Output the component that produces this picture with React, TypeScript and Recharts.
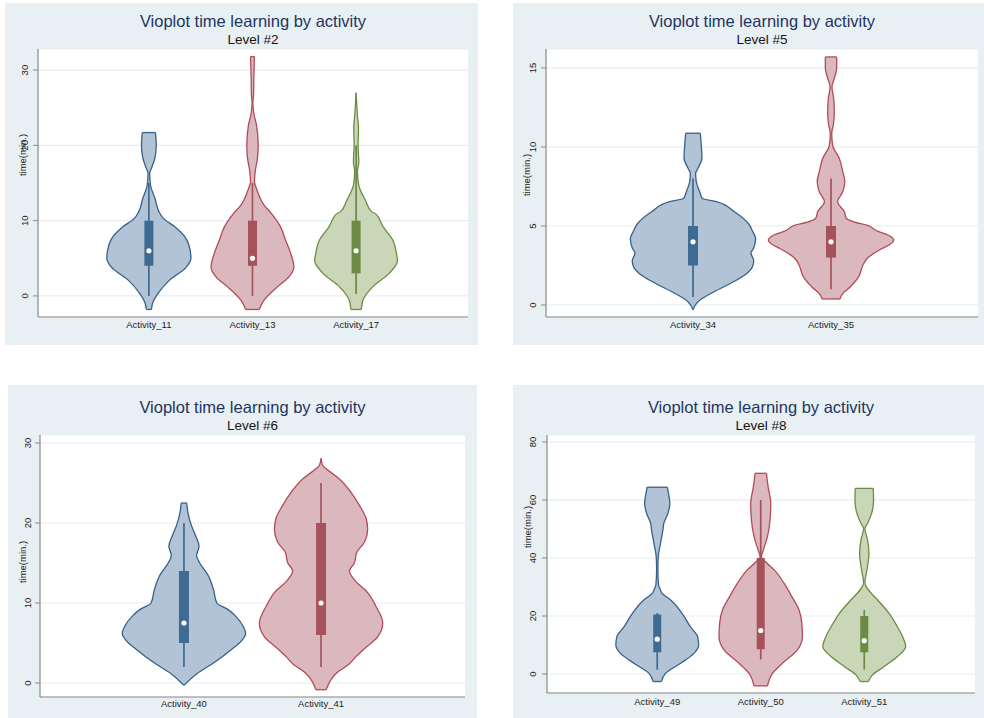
import React from 'react';
import { ComposedChart, Area, Line, Scatter, XAxis, YAxis, CartesianGrid, Label } from 'recharts';

// each outline row: [time (min.), half width of the violin in category units]
type Outline = [number, number][];

// Level #2
const LEVEL2_NAMES = ['Activity_11', 'Activity_13', 'Activity_17'];
const ACT11_OUTLINE: Outline = [
  [-1.8, 0.025], [-1.0, 0.035], [0.3, 0.087], [2.1, 0.2], [3.8, 0.36], [5.0, 0.406], [6.8, 0.385],
  [8.0, 0.34], [9.2, 0.25], [10.3, 0.14], [11.2, 0.097], [13.0, 0.058], [14.7, 0.016], [16.3, 0.008],
  [17.0, 0.026], [18.3, 0.058], [20.0, 0.071], [21.0, 0.068], [21.7, 0.063],
];
const ACT13_OUTLINE: Outline = [
  [-1.8, 0.065], [-0.6, 0.11], [1.2, 0.24], [2.5, 0.35], [3.8, 0.4], [5.6, 0.37], [7.4, 0.32],
  [9.2, 0.27], [11.0, 0.18], [12.1, 0.11], [13.9, 0.048], [15.2, 0.019], [16.5, 0.026], [18.3, 0.048],
  [20.0, 0.055], [22.7, 0.039], [24.0, 0.016], [25.6, 0.004], [26.7, 0.01], [28.9, 0.013], [30.5, 0.016],
  [31.8, 0.019],
];
const ACT17_OUTLINE: Outline = [
  [-1.8, 0.05], [-0.6, 0.065], [1.2, 0.16], [3.0, 0.32], [4.7, 0.4], [5.6, 0.39], [7.4, 0.355],
  [9.2, 0.26], [10.9, 0.19], [11.2, 0.15], [12.7, 0.09], [14.7, 0.026], [16.5, 0.013], [17.8, 0.026],
  [20.0, 0.019], [22.3, 0.023], [24.0, 0.013], [25.5, 0.006], [27.0, 0],
];
// [lower adjacent, q1, median, q3, upper adjacent]
const LEVEL2_STATS = [[0, 4, 6, 10, 15], [0, 4, 5, 10, 15], [0.25, 3, 6, 10, 20]];
const LEVEL2_TICKS = [0, 10, 20, 30];

// Level #5
const LEVEL5_NAMES = ['Activity_34', 'Activity_35'];
const ACT34_OUTLINE: Outline = [
  [-0.31, 0], [0.21, 0.036], [0.73, 0.13], [1.36, 0.27], [2.0, 0.39], [2.4, 0.43], [2.8, 0.44],
  [3.3, 0.42], [3.6, 0.44], [4.2, 0.454], [4.7, 0.43], [5.06, 0.41], [5.9, 0.3], [6.54, 0.17],
  [6.75, 0.068], [7.17, 0.048], [7.8, 0.024], [8.33, 0.019], [8.65, 0.036], [9.28, 0.065], [10.1, 0.06],
  [10.87, 0.053],
];
const ACT35_OUTLINE: Outline = [
  [0.38, 0.065], [0.63, 0.077], [1.15, 0.14], [1.78, 0.2], [2.5, 0.23], [2.93, 0.26], [3.56, 0.367],
  [3.8, 0.42], [4.12, 0.454], [4.4, 0.42], [4.7, 0.33], [5.06, 0.26], [5.25, 0.17], [5.5, 0.11],
  [5.9, 0.097], [6.54, 0.048], [7.17, 0.085], [7.8, 0.1], [8.44, 0.085], [9.28, 0.06], [10.1, 0.012],
  [10.86, 0.005], [11.4, 0.017], [12.2, 0.024], [13.1, 0.019], [13.8, 0.007], [14.35, 0.024],
  [14.98, 0.041], [15.7, 0.041],
];
const LEVEL5_STATS = [[0.5, 2.5, 4, 5, 8], [1, 3, 4, 5, 8]];
const LEVEL5_TICKS = [0, 5, 10, 15];

// Level #6
const LEVEL6_NAMES = ['Activity_40', 'Activity_41'];
const ACT40_OUTLINE: Outline = [
  [-0.3, 0], [1.2, 0.097], [2.4, 0.207], [4.1, 0.34], [5.4, 0.426], [6.2, 0.45], [7.06, 0.433],
  [8.3, 0.38], [9.2, 0.32], [10.0, 0.24], [11.7, 0.215], [13.4, 0.178], [15.0, 0.115], [15.9, 0.092],
  [17.1, 0.11], [18.4, 0.085], [19.7, 0.054], [21.3, 0.029], [22.5, 0.02],
];
const ACT41_OUTLINE: Outline = [
  [-0.84, 0.037], [1.2, 0.11], [2.4, 0.207], [3.3, 0.255], [4.1, 0.304], [5.8, 0.414], [7.5, 0.45],
  [9.6, 0.4], [11.3, 0.34], [12.9, 0.243], [14.0, 0.207], [15.0, 0.243], [16.3, 0.26], [17.6, 0.316],
  [19.2, 0.34], [20.5, 0.33], [22.2, 0.28], [23.8, 0.22], [25.5, 0.134], [26.8, 0.036], [27.2, 0.012],
  [28.1, 0],
];
const LEVEL6_STATS = [[2, 5, 7.5, 14, 20], [2, 6, 10, 20, 25]];
const LEVEL6_TICKS = [0, 10, 20, 30];

// Level #8
const LEVEL8_NAMES = ['Activity_49', 'Activity_50', 'Activity_51'];
const ACT49_OUTLINE: Outline = [
  [-2.6, 0.04], [0.23, 0.08], [3.7, 0.226], [7.1, 0.355], [10.0, 0.4], [12.9, 0.39], [16.3, 0.32],
  [20.9, 0.24], [25.5, 0.13], [27.8, 0.048], [29.5, 0.026], [30.7, 0.013], [35.9, 0.006], [40.5, 0.01],
  [45.1, 0.032], [49.7, 0.055], [52.0, 0.064], [55.4, 0.103], [58.9, 0.122], [62.0, 0.11], [64.4, 0.097],
];
const ACT50_OUTLINE: Outline = [
  [-4.1, 0.065], [0.2, 0.113], [3.7, 0.21], [8.3, 0.355], [12.9, 0.403], [17.5, 0.397], [22.1, 0.37],
  [26.7, 0.3], [31.3, 0.225], [35.9, 0.13], [38.2, 0.06], [40.4, 0.006], [42.8, 0.026], [47.3, 0.064],
  [53.1, 0.09], [58.9, 0.097], [64.6, 0.071], [69.2, 0.055],
];
const ACT51_OUTLINE: Outline = [
  [-2.6, 0.04], [-0.3, 0.08], [2.5, 0.19], [6.0, 0.32], [9.4, 0.4], [12.9, 0.37], [16.3, 0.32],
  [20.9, 0.24], [25.5, 0.13], [29.5, 0.03], [31.5, 0.006], [35.9, 0.026], [41.6, 0.045], [46.2, 0.032],
  [50.2, 0.006], [52.0, 0.032], [55.4, 0.071], [60.0, 0.09], [64.0, 0.087],
];
const LEVEL8_STATS = [[1.5, 7.5, 12, 20.5, 21], [5, 8.5, 15, 40, 60], [1.5, 7.5, 11.5, 20, 22]];
const LEVEL8_TICKS = [0, 20, 40, 60, 80];

const PALETTE = [
  { fill: '#b1c3d4', edge: '#36618b', box: '#3f6a92' },
  { fill: '#dbb8bd', edge: '#b14c57', box: '#a6525b' },
  { fill: '#c9d6b8', edge: '#6b8c42', box: '#6a8a45' },
];

const FONT = '"Liberation Sans", Arial, Helvetica, sans-serif';
const PANEL_BG = '#e9f0f3';
const GRID = '#e6eef2';
const AXIS = '#8a8a8a';
const INK = '#222';
const TITLE_INK = '#1f3563';

interface PanelSpec {
  level: string;
  names: string[];
  outlines: Outline[];
  stats: number[][];
  yTicks: number[];
  yDomain: [number, number];
  xDomain: [number, number];
  left: number;
  top: number;
  width: number;
  height: number;
  axisW: number;
  right: number;
  marginTop: number;
  axisH: number;
  tickGap: number;
  yTitleGap: number;
  yTitleY: number;
  xLabelGap: number;
  titleY: number;
  subY: number;
  boxWidth: number;
}

const PANELS: PanelSpec[] = [
  {
    level: 'Level #2', names: LEVEL2_NAMES, outlines: [ACT11_OUTLINE, ACT13_OUTLINE, ACT17_OUTLINE],
    stats: LEVEL2_STATS, yTicks: LEVEL2_TICKS, yDomain: [-2.8, 32.8], xDomain: [-0.07, 4.08],
    left: 5, top: 3, width: 473, height: 342, axisW: 33, right: 10, marginTop: 46, axisH: 28,
    tickGap: 13, yTitleGap: 15, yTitleY: 152, xLabelGap: 8, titleY: 18, subY: 37, boxWidth: 9,
  },
  {
    level: 'Level #5', names: LEVEL5_NAMES, outlines: [ACT34_OUTLINE, ACT35_OUTLINE],
    stats: LEVEL5_STATS, yTicks: LEVEL5_TICKS, yDomain: [-0.76, 16.2], xDomain: [-0.065, 3.065],
    left: 513, top: 3, width: 471, height: 342, axisW: 33, right: 6, marginTop: 46, axisH: 28,
    tickGap: 13, yTitleGap: 19, yTitleY: 172, xLabelGap: 8, titleY: 18, subY: 37, boxWidth: 10,
  },
  {
    level: 'Level #6', names: LEVEL6_NAMES, outlines: [ACT40_OUTLINE, ACT41_OUTLINE],
    stats: LEVEL6_STATS, yTicks: LEVEL6_TICKS, yDomain: [-1.75, 31], xDomain: [-0.05, 3.05],
    left: 8, top: 385, width: 469, height: 333, axisW: 32, right: 12, marginTop: 50, axisH: 21,
    tickGap: 12, yTitleGap: 17, yTitleY: 177, xLabelGap: 7, titleY: 22, subY: 41, boxWidth: 10,
  },
  {
    level: 'Level #8', names: LEVEL8_NAMES, outlines: [ACT49_OUTLINE, ACT50_OUTLINE, ACT51_OUTLINE],
    stats: LEVEL8_STATS, yTicks: LEVEL8_TICKS, yDomain: [-6.55, 82.4], xDomain: [-0.065, 4.07],
    left: 513, top: 385, width: 471, height: 333, axisW: 34, right: 9, marginTop: 50, axisH: 25,
    tickGap: 14, yTitleGap: 19, yTitleY: 142, xLabelGap: 9, titleY: 22, subY: 41, boxWidth: 8,
  },
];

// rotated value labels, read bottom to top
const YTick = (t: any) => (
  <text
    x={t.x}
    y={t.y}
    dy="0.35em"
    transform={`rotate(-90 ${t.x} ${t.y})`}
    textAnchor="middle"
    fontSize={9.5}
    fontFamily={FONT}
    fill={INK}
  >
    {t.payload.value}
  </text>
);

function Panel({ p }: { p: PanelSpec }) {
  const pos = p.names.map((_, i) => i + 1);
  const plotW = p.width - p.axisW - p.right;
  const midX = p.axisW + plotW / 2;

  return (
    <div
      style={{
        position: 'absolute',
        left: p.left,
        top: p.top,
        width: p.width,
        height: p.height,
        background: PANEL_BG,
      }}
    >
      <ComposedChart
        layout="vertical"
        width={p.width}
        height={p.height}
        margin={{ top: p.marginTop, right: p.right, bottom: 0, left: 0 }}
      >
        <CartesianGrid vertical={false} fill="#fff" stroke={GRID} strokeWidth={1.2} />
        <XAxis
          type="number"
          domain={p.xDomain}
          allowDataOverflow
          ticks={pos}
          interval={0}
          height={p.axisH}
          tickSize={0}
          tickMargin={p.xLabelGap}
          tickLine={false}
          axisLine={{ stroke: AXIS, strokeWidth: 1.2 }}
          tick={(t: any) => (
            <text x={t.x} y={t.y} dy="0.35em" textAnchor="middle" fontSize={9.5} fontFamily={FONT} fill={INK}>
              {p.names[t.payload.value - 1]}
            </text>
          )}
        />
        <YAxis
          type="number"
          dataKey="y"
          reversed
          domain={p.yDomain}
          allowDataOverflow
          ticks={p.yTicks}
          interval={0}
          width={p.axisW}
          tickSize={5}
          tickMargin={p.tickGap - 5}
          axisLine={{ stroke: AXIS, strokeWidth: 1.2 }}
          tickLine={{ stroke: AXIS }}
          tick={YTick}
        >
          <Label
            content={(lp: any) => {
              const vb = lp.viewBox || { x: 0, width: p.axisW };
              const x = vb.x + vb.width - p.yTitleGap;
              return (
                <text
                  x={x}
                  y={p.yTitleY}
                  dy="0.35em"
                  transform={`rotate(-90 ${x} ${p.yTitleY})`}
                  textAnchor="middle"
                  fontSize={9.5}
                  fontFamily={FONT}
                  fill={INK}
                >
                  time(min.)
                </text>
              );
            }}
          />
        </YAxis>

        {/* violin bodies */}
        {p.outlines.map((o, i) => (
          <Area
            key={`violin-${i}`}
            data={o.map(([t, w]) => ({ y: t, band: [pos[i] - w, pos[i] + w] }))}
            dataKey="band"
            type="monotone"
            fill={PALETTE[i].fill}
            fillOpacity={1}
            stroke={PALETTE[i].edge}
            strokeWidth={1.3}
            dot={false}
            activeDot={false}
            isAnimationActive={false}
          />
        ))}

        {/* flat ends of the violins */}
        {p.outlines.flatMap((o, i) =>
          [o[0], o[o.length - 1]].map(([t, w], k) => (
            <Line
              key={`cap-${i}-${k}`}
              data={[{ y: t, x: pos[i] - w }, { y: t, x: pos[i] + w }]}
              dataKey="x"
              type="linear"
              stroke={PALETTE[i].edge}
              strokeWidth={1.3}
              dot={false}
              activeDot={false}
              isAnimationActive={false}
            />
          ))
        )}

        {/* whiskers */}
        {p.stats.map((s, i) => (
          <Line
            key={`whisker-${i}`}
            data={[{ y: s[0], x: pos[i] }, { y: s[4], x: pos[i] }]}
            dataKey="x"
            type="linear"
            stroke={PALETTE[i].box}
            strokeWidth={1.7}
            dot={false}
            activeDot={false}
            isAnimationActive={false}
          />
        ))}

        {/* interquartile boxes */}
        {p.stats.map((s, i) => (
          <Line
            key={`box-${i}`}
            data={[{ y: s[1], x: pos[i] }, { y: s[3], x: pos[i] }]}
            dataKey="x"
            type="linear"
            stroke={PALETTE[i].box}
            strokeWidth={p.boxWidth}
            strokeLinecap="butt"
            dot={false}
            activeDot={false}
            isAnimationActive={false}
          />
        ))}

        {/* medians */}
        {p.stats.map((s, i) => (
          <Scatter
            key={`median-${i}`}
            data={[{ y: s[2], x: pos[i] }]}
            dataKey="x"
            isAnimationActive={false}
            shape={(d: any) => <circle cx={d.cx} cy={d.cy} r={2.6} fill="#fff" />}
          />
        ))}
      </ComposedChart>

      <div
        style={{
          position: 'absolute',
          left: midX - 200,
          top: p.titleY - 11,
          width: 400,
          textAlign: 'center',
          fontFamily: FONT,
          fontSize: 16.5,
          lineHeight: '22px',
          color: TITLE_INK,
          whiteSpace: 'nowrap',
        }}
      >
        Vioplot time learning by activity
      </div>
      <div
        style={{
          position: 'absolute',
          left: midX - 100,
          top: p.subY - 8,
          width: 200,
          textAlign: 'center',
          fontFamily: FONT,
          fontSize: 13.5,
          lineHeight: '16px',
          color: '#151515',
          whiteSpace: 'nowrap',
        }}
      >
        {p.level}
      </div>
    </div>
  );
}

export default function App() {
  return (
    <div style={{ position: 'absolute', left: 0, top: 0, width: 984, height: 718, background: '#fff' }}>
      {PANELS.map((p) => (
        <Panel key={p.level} p={p} />
      ))}
    </div>
  );
}
